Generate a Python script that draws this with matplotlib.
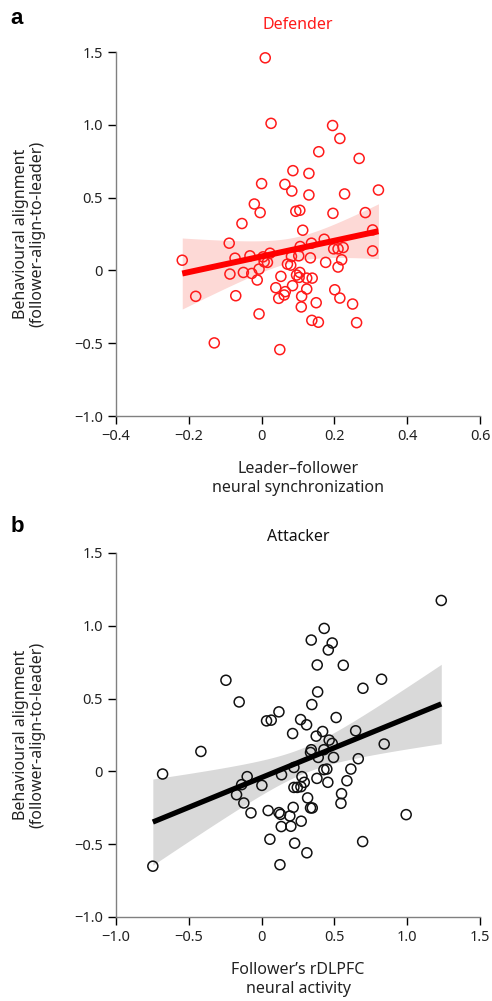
import numpy as np
import matplotlib
matplotlib.use("Agg")
import matplotlib.pyplot as plt

plt.rcParams['font.family'] = ['Noto Sans', 'DejaVu Sans']

# panel a: defender, leader-follower neural synchronization vs behavioural alignment
def_x = [0.010, 0.026, 0.195, 0.215, 0.157, 0.268, 0.086, 0.130, 0.000, 0.064,
         0.083, 0.130, 0.228, 0.321, -0.020, -0.004, 0.094, 0.105, 0.196, 0.285,
         -0.054, 0.113, 0.305, -0.089, 0.172, 0.137, 0.106, 0.198, 0.210, 0.224,
         0.305, -0.218, -0.073, -0.032, 0.004, 0.023, 0.082, 0.102, 0.134, 0.176,
         0.220, 0.210, 0.007, 0.016, 0.071, 0.080, -0.087, -0.050, -0.027, -0.007,
         -0.012, 0.053, 0.096, 0.105, 0.103, 0.124, 0.139, 0.039, 0.085, 0.065,
         0.124, 0.201, -0.181, -0.071, 0.047, 0.062, 0.110, 0.215, 0.150, 0.250,
         0.109, -0.007, 0.138, 0.156, 0.261, -0.130, 0.050]
def_y = [1.46, 1.01, 0.995, 0.906, 0.815, 0.769, 0.685, 0.666, 0.596, 0.591,
         0.545, 0.518, 0.525, 0.552, 0.456, 0.397, 0.406, 0.413, 0.392, 0.397,
         0.322, 0.276, 0.278, 0.187, 0.214, 0.187, 0.164, 0.148, 0.148, 0.157,
         0.134, 0.070, 0.084, 0.100, 0.093, 0.118, 0.096, 0.100, 0.086, 0.055,
         0.073, 0.023, 0.059, 0.055, 0.043, 0.036, -0.025, -0.014, -0.021, 0.009,
         -0.066, -0.041, -0.032, -0.014, -0.048, -0.053, -0.053, -0.119, -0.105, -0.146,
         -0.128, -0.133, -0.178, -0.174, -0.192, -0.169, -0.178, -0.190, -0.222, -0.231,
         -0.251, -0.299, -0.343, -0.356, -0.359, -0.498, -0.544]

# panel b: attacker, follower's rDLPFC activity vs behavioural alignment
att_x = [1.234, 0.430, 0.341, 0.485, 0.458, 0.382, 0.561, -0.245, 0.824, 0.696,
         0.385, -0.154, 0.345, 0.119, 0.034, 0.066, 0.268, 0.309, 0.512, 0.213,
         0.375, 0.419, 0.646, 0.464, 0.485, 0.842, -0.417, 0.341, 0.336, 0.428,
         0.389, 0.494, 0.664, 0.428, 0.448, 0.613, 0.222, -0.680, -0.099, -0.137,
         0.002, 0.137, 0.277, 0.293, 0.380, 0.455, 0.586, 0.222, 0.245, 0.270,
         -0.172, 0.549, -0.122, 0.316, 0.545, -0.073, 0.045, 0.119, 0.130, 0.217,
         0.336, 0.348, 0.194, 0.993, 0.135, 0.201, 0.272, 0.057, 0.227, 0.694,
         0.311, 0.126, -0.747]
att_y = [1.174, 0.982, 0.902, 0.882, 0.834, 0.731, 0.729, 0.626, 0.633, 0.571,
         0.546, 0.477, 0.459, 0.409, 0.347, 0.352, 0.356, 0.320, 0.370, 0.260,
         0.242, 0.274, 0.279, 0.215, 0.192, 0.188, 0.137, 0.149, 0.130, 0.149,
         0.096, 0.096, 0.087, 0.012, 0.016, 0.016, 0.027, -0.018, -0.036, -0.091,
         -0.096, -0.023, -0.036, -0.075, -0.048, -0.075, -0.064, -0.110, -0.110, -0.105,
         -0.160, -0.153, -0.217, -0.182, -0.219, -0.285, -0.269, -0.283, -0.295, -0.247,
         -0.251, -0.251, -0.306, -0.297, -0.379, -0.377, -0.342, -0.466, -0.493, -0.482,
         -0.559, -0.641, -0.651]

y_ticks = [-1.0, -0.5, 0, 0.5, 1.0, 1.5]
y_labels = ['\u22121.0', '\u22120.5', '0', '0.5', '1.0', '1.5']
xa_ticks = [-0.4, -0.2, 0, 0.2, 0.4, 0.6]
xa_labels = ['\u22120.4', '\u22120.2', '0', '0.2', '0.4', '0.6']
xb_ticks = [-1.0, -0.5, 0, 0.5, 1.0, 1.5]
xb_labels = ['\u22121.0', '\u22120.5', '0', '0.5', '1.0', '1.5']


def fit_ci(x, y, n_pts=100):
    x = np.asarray(x); y = np.asarray(y)
    n = len(x)
    b, a = np.polyfit(x, y, 1)
    xs = np.linspace(x.min(), x.max(), n_pts)
    resid = y - (a + b * x)
    s = np.sqrt(np.sum(resid ** 2) / (n - 2))
    sxx = np.sum((x - x.mean()) ** 2)
    se = s * np.sqrt(1.0 / n + (xs - x.mean()) ** 2 / sxx)
    yh = a + b * xs
    return xs, yh, yh - 1.99 * se, yh + 1.99 * se


def style(ax, xt, xl, xlim):
    for s in ['top', 'right']:
        ax.spines[s].set_visible(False)
    for s in ['left', 'bottom']:
        ax.spines[s].set_color('#808080')
        ax.spines[s].set_linewidth(1.0)
    ax.set_xlim(*xlim)
    ax.set_ylim(-1.0, 1.5)
    ax.set_xticks(xt)
    ax.set_xticklabels(xl)
    ax.set_yticks(y_ticks)
    ax.set_yticklabels(y_labels)
    ax.tick_params(length=5.5, width=1.0, color='black', labelsize=10.5,
                   labelcolor='#222222', pad=4)
    ax.set_ylabel('Behavioural alignment\n(follower-align-to-leader)',
                  fontsize=11.5, color='#222222', linespacing=1.0)
    ax.yaxis.set_label_coords(-0.195, 0.5)


fig = plt.figure(figsize=(4.92, 10.01), dpi=100)
ax1 = fig.add_axes([116 / 492, 1 - 416 / 1001, 364 / 492, 364 / 1001])
ax2 = fig.add_axes([116 / 492, 1 - 917 / 1001, 364 / 492, 364 / 1001])

xs, yh, lo, hi = fit_ci(def_x, def_y)
ax1.fill_between(xs, lo, hi, color='#fdd9d6', lw=0, zorder=1)
ax1.scatter(def_x, def_y, s=52, facecolors='none', edgecolors='#ff1a1a',
            linewidths=1.1, zorder=2)
ax1.plot(xs, yh, color='#ff0000', lw=4.3, solid_capstyle='butt', zorder=3)
style(ax1, xa_ticks, xa_labels, (-0.4, 0.6))
ax1.set_xlabel('Leader\u2013follower\nneural synchronization', fontsize=11.5,
               labelpad=12, color='#222222', linespacing=1.3)

xs, yh, lo, hi = fit_ci(att_x, att_y)
ax2.fill_between(xs, lo, hi, color='#d9d9d9', lw=0, zorder=1)
ax2.scatter(att_x, att_y, s=52, facecolors='none', edgecolors='#111111',
            linewidths=1.1, zorder=2)
ax2.plot(xs, yh, color='black', lw=3.8, solid_capstyle='butt', zorder=3)
style(ax2, xb_ticks, xb_labels, (-1.0, 1.5))
ax2.set_xlabel('Follower\u2019s rDLPFC\nneural activity', fontsize=11.5,
               labelpad=12, color='#222222', linespacing=1.3)

fig.text(298 / 492, 1 - 25 / 1001, 'Defender', color='#ff1a1a', fontsize=11.5,
         ha='center', va='center')
fig.text(298 / 492, 1 - 537 / 1001, 'Attacker', color='#111111', fontsize=11.5,
         ha='center', va='center')
fig.text(17 / 492, 1 - 18 / 1001, 'a', fontsize=16, fontweight='bold',
         family='Liberation Sans', ha='center', va='center')
fig.text(17 / 492, 1 - 527 / 1001, 'b', fontsize=16, fontweight='bold',
         family='Liberation Sans', ha='center', va='center')

fig.savefig('out.png', dpi=100)
